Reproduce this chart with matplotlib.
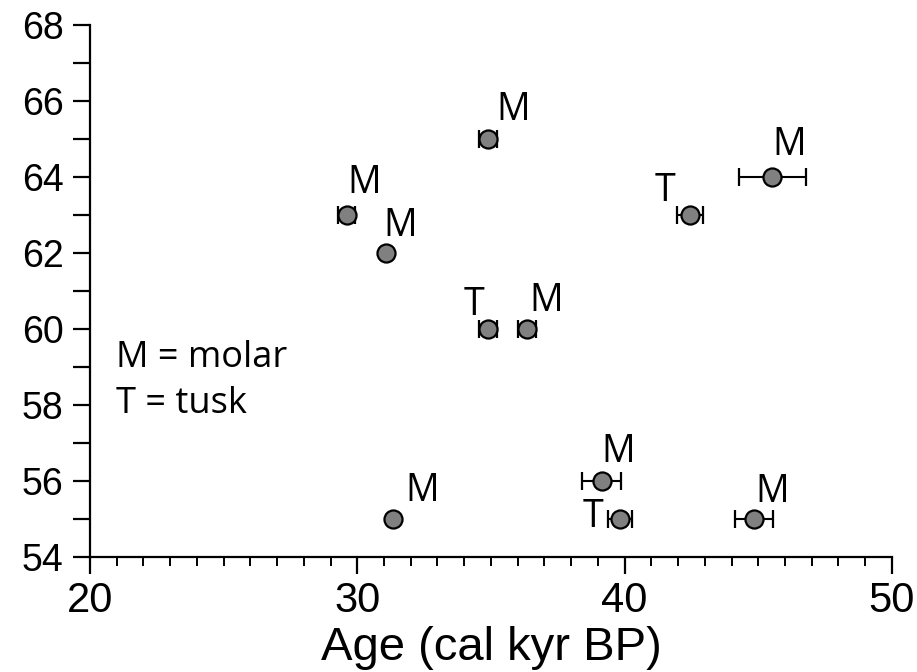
import matplotlib
matplotlib.use("Agg")
import matplotlib.pyplot as plt
from matplotlib.ticker import MultipleLocator

# tooth samples: age (cal kyr BP), value, age error, type
ages = [29.6, 31.07, 34.9, 45.53, 42.45, 34.9, 36.35, 39.15, 39.83, 44.84, 31.34]
values = [63, 62, 65, 64, 63, 60, 60, 56, 55, 55, 55]
age_err = [0.33, 0.0, 0.33, 1.25, 0.48, 0.33, 0.33, 0.73, 0.45, 0.71, 0.0]
kinds = ["M", "M", "M", "M", "T", "T", "M", "M", "T", "M", "M"]

# label offsets in points (layout only)
label_offsets = [(13, 23), (10, 19.5), (18, 21), (12, 23), (-18, 17),
                 (-10, 17), (14, 20), (12, 21), (-19.5, 1.5), (13, 19.5), (21, 20)]

plt.rcParams['font.family'] = ['Liberation Sans', 'DejaVu Sans']
label_font = ['Open Sans', 'DejaVu Sans']

fig = plt.figure(figsize=(9.17, 6.72), dpi=100)
ax = fig.add_axes([0.0981, 0.1711, 0.8746, 0.7917])

ax.errorbar(ages, values, xerr=age_err, fmt='o', color='black', ecolor='black',
            elinewidth=1.5, capsize=6.5, capthick=1.5, markersize=13,
            markerfacecolor='#808080', markeredgecolor='black', markeredgewidth=1.6,
            zorder=3)

for x, y, k, off in zip(ages, values, kinds, label_offsets):
    ax.annotate(k, (x, y), xytext=off, textcoords='offset points',
                ha='center', va='center', fontsize=27, family=label_font)

ax.text(0.033, 0.357, "M = molar", transform=ax.transAxes,
        fontsize=26, va='baseline', ha='left', family=label_font)
ax.text(0.033, 0.271, "T = tusk", transform=ax.transAxes,
        fontsize=26, va='baseline', ha='left', family=label_font)

ax.set_xlim(20, 50)
ax.set_ylim(54, 68)
ax.xaxis.set_major_locator(MultipleLocator(10))
ax.xaxis.set_minor_locator(MultipleLocator(1))
ax.yaxis.set_major_locator(MultipleLocator(2))
ax.yaxis.set_minor_locator(MultipleLocator(1))

for side in ['top', 'right']:
    ax.spines[side].set_visible(False)
for side in ['left', 'bottom']:
    ax.spines[side].set_linewidth(1.6)

ax.tick_params(axis='y', which='both', direction='out', length=12, width=1.6,
               labelsize=27, pad=7)
ax.tick_params(axis='x', which='major', direction='out', length=12, width=1.6,
               labelsize=30, pad=5)
ax.tick_params(axis='x', which='minor', direction='out', length=6.5, width=1.4)

ax.set_xlabel("Age (cal kyr BP)", fontsize=34, labelpad=4)

fig.savefig("out.png", dpi=100)
